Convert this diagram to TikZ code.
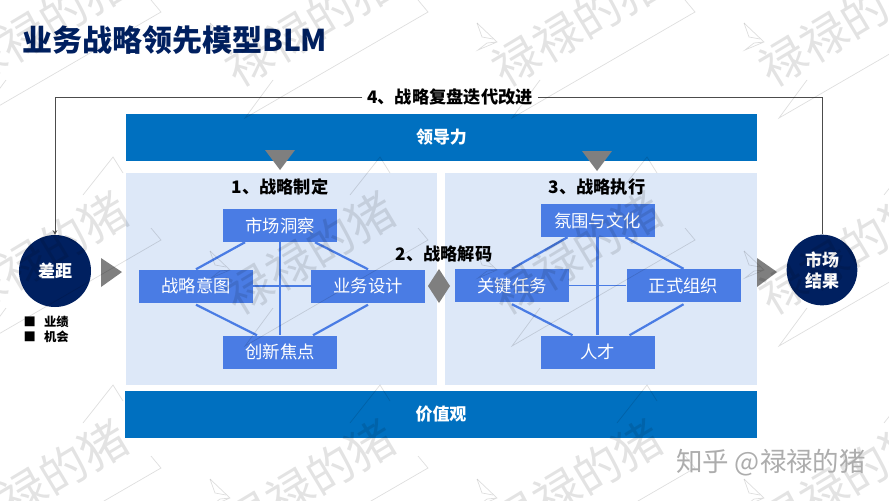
\documentclass[tikz,border=0pt]{standalone}
\usepackage{fontspec}
\setmainfont{Noto Sans CJK SC}
\usepackage{tikz}
\definecolor{barblue}{HTML}{0070C0}
\definecolor{panelblue}{HTML}{DDE8F8}
\definecolor{boxblue}{HTML}{4A7CE4}
\definecolor{navy}{HTML}{002060}
\definecolor{tipgray}{HTML}{7F7F7F}
\tikzset{
  bar/.style={fill=barblue, text=white, minimum width=18.93cm, minimum height=1.41cm, inner sep=0, font=\fontsize{14.5}{17}\selectfont\bfseries},
  panel/.style={fill=panelblue, minimum width=9.33cm, minimum height=6.36cm, inner sep=0},
  elem/.style={fill=boxblue, text=white, minimum width=3.42cm, minimum height=0.99cm, inner sep=0, font=\fontsize{14.8}{17}\selectfont},
  link/.style={draw=boxblue, line width=1.9pt},
  thinlink/.style={draw=boxblue, line width=1.4pt},
  disc/.style={circle, fill=navy, text=white, minimum size=2.16cm, inner sep=0, align=center, font=\fontsize{14.5}{18}\selectfont\bfseries},
  head/.style={inner sep=1pt, font=\fontsize{14.7}{17}\selectfont\bfseries},
  wmark/.style={draw=black, opacity=0.13, line width=0.6pt}
}
\begin{document}
\begin{tikzpicture}[x=0.03cm, y=-0.03cm]
  \useasboundingbox (0, 0) rectangle (889, 500);
  \fill[white] (0, 0) rectangle (889, 500);

  \node (title) [anchor=west, inner sep=0, text=navy, font=\fontsize{25.6}{30}\selectfont\bfseries] at (22, 40) {业务战略领先模型BLM};

  \node (lead) [bar] at (441.5, 137.5) {领导力};
  \node (value) [bar] at (441, 414) {价值观};
  \node (panelL) [panel] at (281.5, 279) {};
  \node (panelR) [panel] at (601, 279) {};

  % gray marks
  \fill[tipgray] (265, 150) -- (295, 150) -- (280, 170) -- cycle;
  \fill[tipgray] (582, 151) -- (612, 151) -- (597, 171) -- cycle;
  \fill[tipgray] (101, 258) -- (122, 272) -- (101, 287) -- cycle;
  \fill[tipgray] (757, 258) -- (777, 272) -- (757, 287) -- cycle;
  \fill[tipgray] (439, 269) -- (450, 286) -- (439, 303) -- (428, 286) -- cycle;

  \node (step1) [head] at (280, 187) {1、战略制定};
  \node (step2) [head] at (444, 254) {2、战略解码};
  \node (step3) [head] at (597, 187) {3、战略执行};

  % left group
  \node (insight) [elem] at (280, 225.5) {市场洞察};
  \node (intent) [elem] at (196, 286) {战略意图};
  \node (design) [elem] at (368, 286) {业务设计};
  \node (focus) [elem] at (280, 352) {创新焦点};
  \draw[link] (insight) -- (focus);
  \draw[thinlink] (intent) -- (design);
  \draw[link] ([xshift=-1.05cm]insight.south) -- (intent.north);
  \draw[link] ([xshift=1.05cm]insight.south) -- (design.north);
  \draw[link] ([yshift=-0.06cm]intent.south) -- ([xshift=-0.69cm]focus.north);
  \draw[link] ([yshift=-0.06cm]design.south) -- ([xshift=0.99cm]focus.north);

  % right group
  \node (culture) [elem] at (597.5, 220.5) {氛围与文化};
  \node (task) [elem] at (512, 285.5) {关键任务};
  \node (org) [elem] at (683.5, 285.5) {正式组织};
  \node (talent) [elem] at (597.5, 352) {人才};
  \draw[link] (culture) -- (talent);
  \draw[thinlink] (task) -- (org);
  \draw[link] ([xshift=-0.9cm]culture.south) -- (task.north);
  \draw[link] ([xshift=0.84cm]culture.south) -- (org.north);
  \draw[link] ([yshift=-0.06cm]task.south) -- ([xshift=-0.75cm]talent.north);
  \draw[link] ([yshift=-0.06cm]org.south) -- ([xshift=0.96cm]talent.north);

  \node (gap) [disc] at (55, 271) {差距};
  \node (result) [disc, minimum size=2.12cm] at (822, 270) {市场\\结果};
  \node (review) [head, inner sep=4pt] at (450, 97) {4、战略复盘迭代改进};
  \draw[line width=0.7pt, draw=black!70] (result.north) |- (review.east);
  \draw[line width=0.7pt, draw=black!70, -stealth] (review.west) -| (gap.north);

  \node (notes) [anchor=west, inner sep=0, align=left, font=\fontsize{10.5}{12.8}\selectfont\bfseries] at (23.5, 329) {■\hspace{0.66em}业绩\\■\hspace{0.66em}机会};

  % watermark
  \foreach \wx in {43, 310, 577, 844} {
    \foreach \wy in {25, 253, 481} {
      \begin{scope}[shift={(\wx, \wy)}]
        \node (mark\wx\wy) [text=black, opacity=0.11, rotate=31, font=\fontsize{40}{44}\selectfont] at (0, 0) {禄禄的猪};
        \draw[wmark] (-37, 55) -- (-65, 93) -- (118, -13) -- (108, -25);
        \draw[wmark] (40, -58) -- (70, -96) -- (80, -80);
        \draw[wmark] (-100, -2) -- (-80, 17) -- (-99, 25) -- (-90, 18) -- (-80, 17);
        \draw[wmark] (-100, -2) -- (-95, 12) -- (-84, 14);
      \end{scope}
    }
  }

  \node (brand) [text=black!32, font=\fontsize{22.6}{26}\selectfont] at (771, 463) {知乎 @禄禄的猪};
\end{tikzpicture}
\end{document}
